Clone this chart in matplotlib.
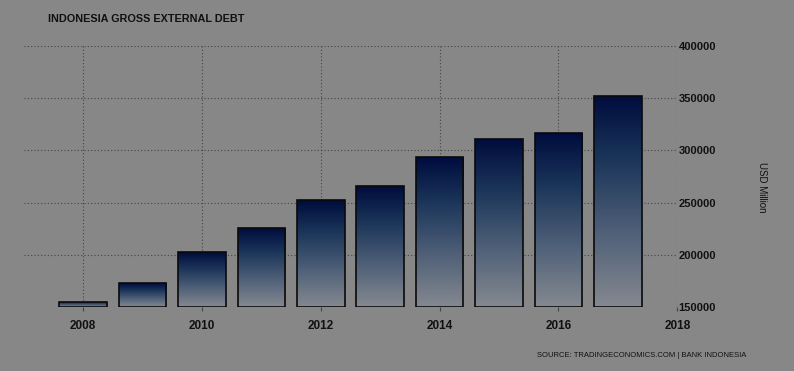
import numpy as np
import matplotlib
matplotlib.use('Agg')
import matplotlib.pyplot as plt
from matplotlib.colors import LinearSegmentedColormap

# Indonesia gross external debt, USD million
years = [2008, 2009, 2010, 2011, 2012, 2013, 2014, 2015, 2016, 2017]
debt = [155080, 172871, 202413, 225375, 252364, 265500, 293328, 310730, 316431, 352247]
x_ticks = [2008, 2010, 2012, 2014, 2016, 2018]
y_ticks = [150000, 200000, 250000, 300000, 350000, 400000]

bg = '#878787'
plt.rcParams['font.family'] = ['Liberation Sans', 'DejaVu Sans']

fig = plt.figure(figsize=(7.94, 3.71), dpi=100, facecolor=bg)
ax = fig.add_axes([0.030, 0.1725, 0.823, 0.7035], facecolor=bg)

# gradient fill: dark navy on top, grey at the base
cmap = LinearSegmentedColormap.from_list(
    'tegrad', [(0.0, '#858990'), (0.35, '#4f6078'), (0.7, '#1b3559'), (1.0, '#000c3e')])
grad = np.linspace(0, 1, 256).reshape(-1, 1)

bars = ax.bar(years, [v - 150000 for v in debt], bottom=150000, width=0.8,
              color='none', edgecolor='#0a0a0a', linewidth=1.2, zorder=3)
for b in bars:
    x0, y0 = b.get_x(), b.get_y()
    im = ax.imshow(grad, cmap=cmap, origin='lower', aspect='auto', zorder=2,
                   extent=[x0, x0 + b.get_width(), y0, y0 + b.get_height()])
    im.set_clip_path(b)

ax.set_xlim(2007, 2018)
ax.set_ylim(150000, 400000)

ax.set_xticks(x_ticks)
ax.set_xticklabels([str(t) for t in x_ticks], fontsize=8.5, fontweight='bold', color='#111111')
ax.set_yticks(y_ticks)
ax.set_yticklabels([str(t) for t in y_ticks], fontsize=8, fontweight='bold', color='#111111')
ax.yaxis.tick_right()
ax.tick_params(axis='y', length=0, pad=1)
ax.tick_params(axis='x', length=3, color='#444444', pad=6)

ax.grid(True, color='#444444', linestyle=(0, (1, 2)), linewidth=0.8, zorder=0)
for s in ax.spines.values():
    s.set_visible(False)

fig.text(0.960, 0.496, 'USD Million', rotation=-90, fontsize=7, color='#111111',
         ha='center', va='center')
fig.text(0.060, 0.95, 'INDONESIA GROSS EXTERNAL DEBT', fontsize=7.8, fontweight='bold',
         color='#111111', ha='left', va='center')
fig.text(0.676, 0.043, 'SOURCE: TRADINGECONOMICS.COM | BANK INDONESIA', fontsize=5.5,
         color='#111111', ha='left', va='center')

fig.savefig('out.png', dpi=100, facecolor=bg)
